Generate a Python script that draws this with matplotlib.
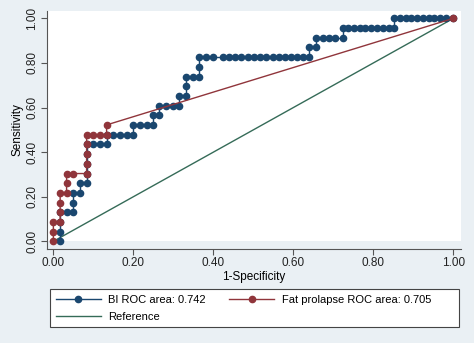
import matplotlib
matplotlib.use("Agg")
import matplotlib.pyplot as plt
from matplotlib.patches import Rectangle

# ROC points (1-specificity, sensitivity)
bi_fpr = [0.017, 0.017, 0.017, 0.017, 0.033, 0.050, 0.050, 0.050, 0.067, 0.067,
          0.083, 0.083, 0.083, 0.083, 0.083, 0.100, 0.117, 0.133, 0.133, 0.150,
          0.167, 0.183, 0.200, 0.200, 0.217, 0.233, 0.248, 0.248, 0.265, 0.265,
          0.282, 0.298, 0.315, 0.315, 0.332, 0.332, 0.332, 0.348, 0.365, 0.365,
          0.365, 0.382, 0.398, 0.424, 0.439, 0.455, 0.470, 0.486, 0.501, 0.517,
          0.532, 0.548, 0.563, 0.579, 0.594, 0.609, 0.625, 0.640, 0.640, 0.657,
          0.657, 0.673, 0.689, 0.705, 0.723, 0.723, 0.737, 0.752, 0.766, 0.780,
          0.795, 0.809, 0.823, 0.838, 0.852, 0.852, 0.866, 0.881, 0.895, 0.909,
          0.924, 0.938, 0.952, 0.967, 0.982, 1.000]
bi_tpr = [0.000, 0.043, 0.087, 0.130, 0.130, 0.130, 0.174, 0.217, 0.217, 0.261,
          0.261, 0.304, 0.348, 0.391, 0.435, 0.435, 0.435, 0.435, 0.478, 0.478,
          0.478, 0.478, 0.478, 0.522, 0.522, 0.522, 0.522, 0.565, 0.565, 0.609,
          0.609, 0.609, 0.609, 0.652, 0.652, 0.696, 0.739, 0.739, 0.739, 0.783,
          0.826, 0.826, 0.826, 0.826, 0.826, 0.826, 0.826, 0.826, 0.826, 0.826,
          0.826, 0.826, 0.826, 0.826, 0.826, 0.826, 0.826, 0.826, 0.870, 0.870,
          0.913, 0.913, 0.913, 0.913, 0.913, 0.957, 0.957, 0.957, 0.957, 0.957,
          0.957, 0.957, 0.957, 0.957, 0.957, 1.000, 1.000, 1.000, 1.000, 1.000,
          1.000, 1.000, 1.000, 1.000, 1.000, 1.000]

fat_fpr = [0.000, 0.000, 0.000, 0.017, 0.017, 0.017, 0.017, 0.033, 0.033, 0.033,
           0.050, 0.083, 0.083, 0.083, 0.083, 0.083, 0.100, 0.117, 0.133, 0.133, 1.000]
fat_tpr = [0.000, 0.043, 0.087, 0.087, 0.130, 0.174, 0.217, 0.217, 0.261, 0.304,
           0.304, 0.304, 0.348, 0.391, 0.435, 0.478, 0.478, 0.478, 0.478, 0.522, 1.000]

ref_x = [0, 1]
ref_y = [0, 1]

labels = ["BI ROC area: 0.742", "Fat prolapse ROC area: 0.705", "Reference"]
ticks = [0.0, 0.2, 0.4, 0.6, 0.8, 1.0]

bg = "#eaf0f4"
navy = "#1a476f"
maroon = "#90353b"
green = "#356b58"

plt.rcParams["font.family"] = ["Liberation Sans", "DejaVu Sans"]
plt.rcParams["font.size"] = 8.5

fig = plt.figure(figsize=(4.74, 3.43), dpi=100, facecolor=bg)
ax = fig.add_axes([0.0985, 0.274, 0.8735, 0.694])
ax.set_facecolor(bg)

xlim = (-0.0167, 1.0183)
ylim = (-0.0345, 1.033)
ax.axhspan(0, ylim[1], facecolor="white", edgecolor="none", zorder=0)

ref_line, = ax.plot(ref_x, ref_y, color=green, lw=1.0, zorder=2)
bi_line, = ax.plot(bi_fpr, bi_tpr, color=navy, lw=1.0, marker="o", ms=4.5,
                   mec=navy, mfc=navy, zorder=3)
fat_line, = ax.plot(fat_fpr, fat_tpr, color=maroon, lw=1.0, marker="o", ms=4.5,
                    mec=maroon, mfc=maroon, zorder=4)

ax.set_xlim(*xlim)
ax.set_ylim(*ylim)
ax.set_xticks(ticks)
ax.set_yticks(ticks)
ax.set_xticklabels(["%.2f" % t for t in ticks])
ax.set_yticklabels(["%.2f" % t for t in ticks], rotation=90, va="center")
ax.tick_params(direction="out", length=4, width=0.8, color="#555555",
               labelcolor="#222222", pad=2)

for side in ["top", "right"]:
    ax.spines[side].set_visible(False)
for side in ["left", "bottom"]:
    ax.spines[side].set_color("#555555")
    ax.spines[side].set_linewidth(0.8)

ax.set_xlabel("1-Specificity", labelpad=1)
ax.set_ylabel("Sensitivity", labelpad=2)

# legend box drawn separately so its size matches the Stata-style frame
box = Rectangle((0.1055, 0.0466), 0.8636, 0.1108, transform=fig.transFigure,
                facecolor="white", edgecolor="#444444", linewidth=0.8)
fig.patches.append(box)

leg = fig.legend([bi_line, ref_line, fat_line],
                 [labels[0], labels[2], labels[1]],
                 ncol=2, loc="upper left",
                 bbox_to_anchor=(0.1055, 0.1574),
                 borderaxespad=0, fontsize=8,
                 handlelength=4.0, handletextpad=0.7, borderpad=0.55,
                 labelspacing=0.6, columnspacing=2.1, frameon=False)

fig.savefig("out.png", dpi=100, facecolor=bg)
